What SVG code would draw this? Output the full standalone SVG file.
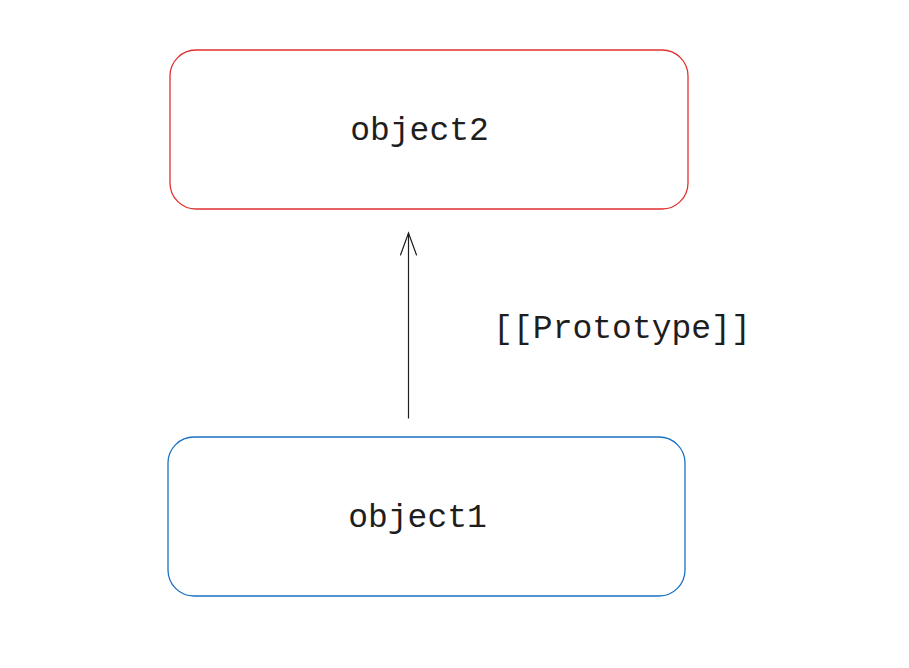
<svg xmlns="http://www.w3.org/2000/svg" width="909" height="668" viewBox="0 0 909 668">
<style>
.box{fill:#fff;stroke-width:1.3}
.t{font-family:"Liberation Mono","DejaVu Sans Mono",monospace;font-size:33px;fill:#1e1e1e}
.c{stroke:#1e1e1e;stroke-width:1.2;fill:none;stroke-linecap:round}
</style>
<rect width="909" height="668" fill="#fff"/>
<g id="object2">
<rect class="box" x="170" y="50" width="518" height="159" rx="26" stroke="#e03131"/>
<text class="t" x="419.5" y="140" text-anchor="middle">object2</text>
</g>
<g id="object1">
<rect class="box" x="168" y="437" width="517" height="159" rx="26" stroke="#1971c2"/>
<text class="t" x="417.5" y="527" text-anchor="middle">object1</text>
</g>
<g id="connectors">
<line class="c" x1="408.5" y1="418" x2="408.5" y2="233"/>
<polyline class="c" points="400.5,255 408.5,233 416.5,255"/>
<text class="t" x="622" y="338" text-anchor="middle">[[Prototype]]</text>
</g>
</svg>
